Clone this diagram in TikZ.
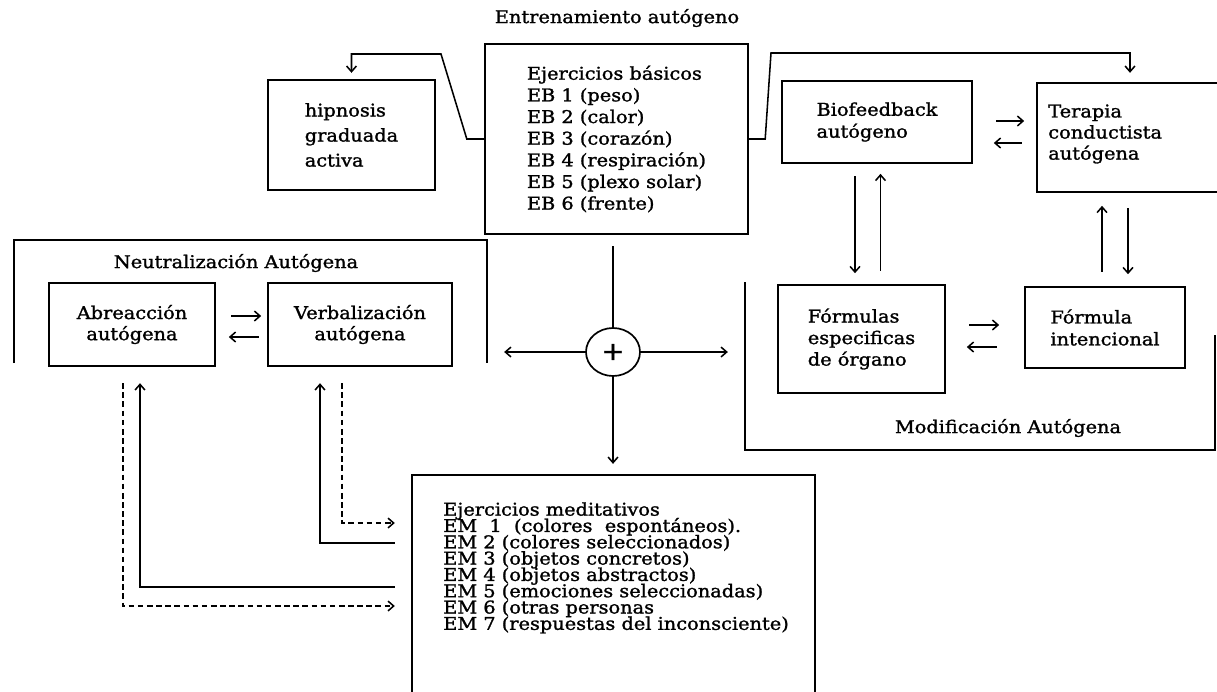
\documentclass[tikz,border=0pt]{standalone}
\usepackage{fontspec}
\setmainfont{DejaVu Serif}[FakeStretch=1.1,FakeBold=1.4]
\usetikzlibrary{arrows.meta,shapes.geometric}
\newdimen\px \px=0.025cm
\newcommand\fnt[1]{\fontsize{12.5}{#1}\selectfont\lineskiplimit=-100pt\lineskip=0pt}
\begin{document}
\begin{tikzpicture}[x=0.025cm,y=-0.025cm,
  box/.style={draw, line width=1.7pt, inner sep=0pt, align=left},
  frame/.style={draw, line width=1.7pt},
  txt/.style={inner sep=0pt, align=left},
  con/.style={line width=1.1pt},
  arr/.style={con, -{Straight Barb[length=4pt,width=7pt]}},
  dsh/.style={arr, dash pattern=on 4pt off 2.5pt},
]
\useasboundingbox (0,0) rectangle (1217,691);
\clip (0,0) rectangle (1217,691);

% titles
\node[txt, font=\fnt{15}] (title) at (617,18) {Entrenamiento autógeno};
\node[txt, font=\fnt{15}] (neut) at (236,263) {Neutralización Autógena};
\node[txt, font=\fnt{15}] (modi) at (1008,428) {Modificación Autógena};

% boxes
\node[box, minimum width=167\px, minimum height=110\px, font=\fnt{17.8}] (hip) at (351.5,135) {hipnosis\\graduada\\activa};
\node[box, minimum width=263\px, minimum height=190\px, font=\fnt{15.4}] (eb) at (616.5,139)
  {Ejercicios básicos\\EB 1 (peso)\\EB 2 (calor)\\EB 3 (corazón)\\EB 4 (respiración)\\EB 5 (plexo solar)\\EB 6 (frente)};
\node[box, minimum width=190\px, minimum height=82\px, font=\fnt{15.6}] (bio) at (877,122) {Biofeedback\\autógeno};
\node[box, minimum width=186\px, minimum height=109\px] (ter) at (1130,137.5) {};
\node[txt, anchor=west, font=\fnt{15}] (tertxt) at (1048,134) {Terapia\\conductista\\autógena};
\node[box, minimum width=166\px, minimum height=83\px, align=center, font=\fnt{15}] (abre) at (132,324.5) {Abreacción\\autógena};
\node[box, minimum width=184\px, minimum height=83\px, align=center, font=\fnt{15}] (verb) at (360,324.5) {Verbalización\\autógena};
\node[box, minimum width=167\px, minimum height=108\px, font=\fnt{15.3}] (form) at (861.5,339) {Fórmulas\\especificas\\de órgano};
\node[box, minimum width=160\px, minimum height=81\px, font=\fnt{15.6}] (int) at (1105,327.5) {Fórmula\\intencional};
\node[box, minimum width=403\px, minimum height=245\px] (em) at (613.5,597.5) {};
\node[txt, anchor=north west, font=\fnt{11.6}] (emtxt) at (443,502)
  {Ejercicios meditativos\\EM~~1~~(colores~~espontáneos).\\EM 2 (colores seleccionados)\\EM 3 (objetos concretos)\\EM 4 (objetos abstractos)\\EM 5 (emociones seleccionadas)\\EM 6 (otras personas\\EM 7 (respuestas del inconsciente)};

% plus
\node[draw, ellipse, line width=1.2pt, minimum width=54\px, minimum height=48\px, inner sep=0pt, font=\fontsize{18}{18}\selectfont] (plus) at (613,352) {+};

% frames
\draw[frame] (14,363) -- (14,240) -- (487,240) -- (487,363);
\draw[frame] (745,282) -- (745,450) -- (1215,450) -- (1215,335);

% top connectors
\coordinate (kL) at (441,54);
\coordinate (kR) at (771,53);
\draw[arr, shorten >=6\px] (eb.west) -- ++(-17,0) -- (kL) -- (kL -| hip.north) -- (hip.north);
\draw[arr, shorten >=9\px] (eb.east) -- ++(16,0) -- (kR) -- (kR -| ter.north) -- (ter.north);

% bio / ter
\draw[arr] (bio.east) ++(23,-1) -- ++(28,0);
\draw[arr] (ter.west) ++(-14,5.5) -- ++(-28,0);
\draw[arr] (bio.south) ++(-22,12) -- ++(0,97);
\draw[arr] (form.north) ++(19,-13) -- ++(0,-97);
\draw[arr] (int.north) ++(-3,-14) -- ++(0,-66);
\draw[arr] (ter.south) ++(-2,15) -- ++(0,66);
\draw[arr] (form.east) ++(23,-14) -- ++(30,0);
\draw[arr] (int.west) ++(-27,19.5) -- ++(-30,0);

% abre / verb
\draw[arr] (abre.east) ++(15,-8.5) -- ++(30,0);
\draw[arr] (verb.west) ++(-8,12.5) -- ++(-30,0);

% plus connectors
\draw[con] (plus.north) ++(0,-81) -- (plus.north);
\draw[arr] (plus.west) -- ++(-81,0);
\draw[arr] (plus.east) -- ++(87,0);
\draw[arr] (plus.south) -- ++(0,87);

% EM connectors
\coordinate (emL) at ([xshift=-16\px]em.west);
\coordinate (dA) at (123,606);
\coordinate (sA) at (140,587);
\coordinate (sV) at (320,543);
\coordinate (dV) at (342,523);
\draw[dsh, shorten <=16\px] (dA |- abre.south) -- (dA) -- (emL |- dA);
\draw[arr, shorten >=16\px] (emL |- sA) -- (sA) -- (sA |- abre.south);
\draw[arr, shorten >=16\px] (emL |- sV) -- (sV) -- (sV |- verb.south);
\draw[dsh, shorten <=16\px] (dV |- verb.south) -- (dV) -- (emL |- dV);
\end{tikzpicture}
\end{document}
